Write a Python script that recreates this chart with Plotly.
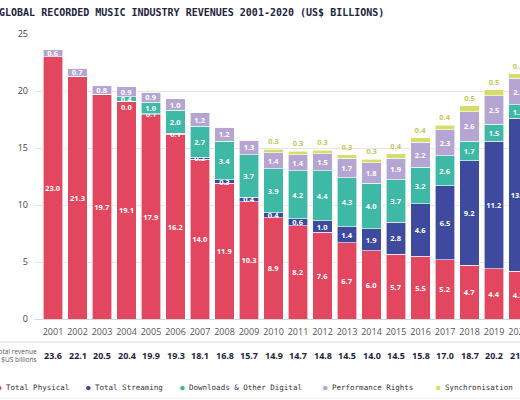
import plotly.graph_objects as go

years = [str(y) for y in range(2001, 2021)]
physical = [23.0, 21.3, 19.7, 19.1, 17.9, 16.2, 14.0, 11.9, 10.3, 8.9,
            8.2, 7.6, 6.7, 6.0, 5.7, 5.5, 5.2, 4.7, 4.4, 4.2]
streaming = [0.0, 0.0, 0.0, 0.0, 0.1, 0.1, 0.2, 0.3, 0.4, 0.4,
             0.6, 1.0, 1.4, 1.9, 2.8, 4.6, 6.5, 9.2, 11.2, 13.4]
downloads = [0.0, 0.0, 0.0, 0.4, 1.0, 2.0, 2.7, 3.4, 3.7, 3.9,
             4.2, 4.4, 4.3, 4.0, 3.7, 3.2, 2.6, 1.7, 1.5, 1.2]
performance = [0.6, 0.7, 0.8, 0.9, 0.9, 1.0, 1.2, 1.2, 1.3, 1.4,
               1.4, 1.5, 1.7, 1.8, 1.9, 2.2, 2.3, 2.6, 2.5, 2.3]
sync = [0.0, 0.0, 0.0, 0.0, 0.0, 0.0, 0.0, 0.0, 0.0, 0.3,
        0.3, 0.3, 0.3, 0.3, 0.4, 0.4, 0.4, 0.5, 0.5, 0.4]
totals = [23.6, 22.1, 20.5, 20.4, 19.9, 19.3, 18.1, 16.8, 15.7, 14.9,
          14.7, 14.8, 14.5, 14.0, 14.5, 15.8, 17.0, 18.7, 20.2, 21.6]
first_digital_year = 2004

series_names = ["Total Physical", "Total Streaming", "Downloads & Other Digital",
                "Performance Rights", "Synchronisation"]
colors = ["#E2475F", "#3D4A9E", "#3DB9A5", "#B4A5D3", "#D6DD68"]

W, H = 520, 400
PLOT_L, PLOT_TOP, PLOT_BOT = 35, 34, 319

def px_x(p):
    return p / W

def px_y(p):
    return (H - p) / H

def lab(vals, cond):
    return [f"{v:.1f}" if c else "" for v, c in zip(vals, cond)]

is_digital = [int(y) >= first_digital_year for y in years]
# zero-height streaming segments get their label placed just under the segment boundary
zero_stream = [d and v == 0 for d, v in zip(is_digital, streaming)]
texts = [
    lab(physical, [True] * len(years)),
    lab(streaming, [d and not z for d, z in zip(is_digital, zero_stream)]),
    lab(downloads, is_digital),
    lab(performance, [v > 0 for v in performance]),
    lab(sync, [v > 0 for v in sync]),
]
values = [physical, streaming, downloads, performance, sync]

fig = go.Figure()
for i, (name, vals, txt, col) in enumerate(zip(series_names, values, texts, colors)):
    last = i == len(series_names) - 1
    fig.add_trace(go.Bar(
        x=years, y=vals, name=name, text=txt,
        marker=dict(color=col, line=dict(color="white", width=0.6)),
        textposition="outside" if last else "inside",
        insidetextanchor="middle",
        textangle=0,
        constraintext="none",
        cliponaxis=False,
        textfont=dict(family="Open Sans", size=7.5, weight="bold",
                      color="#C4C85A" if last else "white"),
        showlegend=False,
        hoverinfo="skip",
    ))

for idx, z in enumerate(zero_stream):
    if z:
        fig.add_annotation(
            text=f"{streaming[idx]:.1f}", xref="x", yref="y", x=idx,
            y=physical[idx] + streaming[idx], yshift=-6, showarrow=False,
            xanchor="center", yanchor="middle",
            font=dict(family="Open Sans", size=7.5, color="white", weight="bold"),
        )

fig.update_layout(
    width=W, height=H,
    margin=dict(l=0, r=0, t=0, b=0, autoexpand=False),
    barmode="stack",
    bargap=0.22,
    paper_bgcolor="white",
    plot_bgcolor="white",
    xaxis=dict(
        type="category",
        automargin=False,
        domain=[px_x(PLOT_L), 1],
        range=[-0.735, 19.06],
        showgrid=False, zeroline=False, showline=False,
        ticks="", ticklabelstandoff=6,
        tickfont=dict(family="Open Sans", size=9, color="#555555"),
    ),
    yaxis=dict(
        automargin=False,
        domain=[px_y(PLOT_BOT), px_y(PLOT_TOP)],
        range=[0, 25],
        tickvals=[0, 5, 10, 15, 20, 25],
        showgrid=True, gridcolor="#E6E6E6", gridwidth=1,
        zeroline=True, zerolinecolor="#D8D8D8", zerolinewidth=1,
        showline=False, ticks="",
        ticklabelstandoff=6,
        tickfont=dict(family="Open Sans", size=9, color="#444444"),
    ),
)

# Title
fig.add_annotation(
    text="GLOBAL RECORDED MUSIC INDUSTRY REVENUES 2001-2020 (US$ BILLIONS)",
    xref="paper", yref="paper", x=px_x(-3), y=px_y(13),
    xanchor="left", yanchor="middle", showarrow=False,
    font=dict(family="DejaVu Sans Mono", size=10, color="#23243C", weight="bold"),
)

# Total revenue row
fig.add_annotation(
    text="Total revenue<br>$US billions",
    xref="paper", yref="paper", x=px_x(39), y=px_y(355),
    xanchor="right", yanchor="middle", align="right", showarrow=False,
    font=dict(family="Open Sans", size=6.5, color="#555555"),
)
for idx, tot in enumerate(totals):
    fig.add_annotation(
        text=f"{tot:.1f}", xref="x", yref="paper", x=idx, y=px_y(355),
        xanchor="center", yanchor="middle", showarrow=False,
        font=dict(family="Open Sans", size=9, color="#23243C", weight="bold"),
    )

fig.add_shape(type="line", xref="paper", yref="paper", x0=0, x1=1,
              y0=px_y(342), y1=px_y(342), line=dict(color="#DADADA", width=1))
fig.add_shape(type="line", xref="paper", yref="paper", x0=0, x1=1,
              y0=px_y(398), y1=px_y(398), line=dict(color="#EEEEEE", width=1))

# Legend as annotations
legend_x = [-1, 88, 182, 325, 438]
for name, col, lx in zip(series_names, colors, legend_x):
    fig.add_annotation(
        text=f"<span style='color:{col}'>●</span> {name}",
        xref="paper", yref="paper", x=px_x(lx - 4), y=px_y(387),
        xanchor="left", yanchor="middle", showarrow=False,
        font=dict(family="DejaVu Sans Mono", size=7.5, color="#333333"),
    )

fig.write_html("out.html",
               config={"displayModeBar": False},
               post_script="document.body.style.margin='0';document.body.style.overflow='hidden';")
